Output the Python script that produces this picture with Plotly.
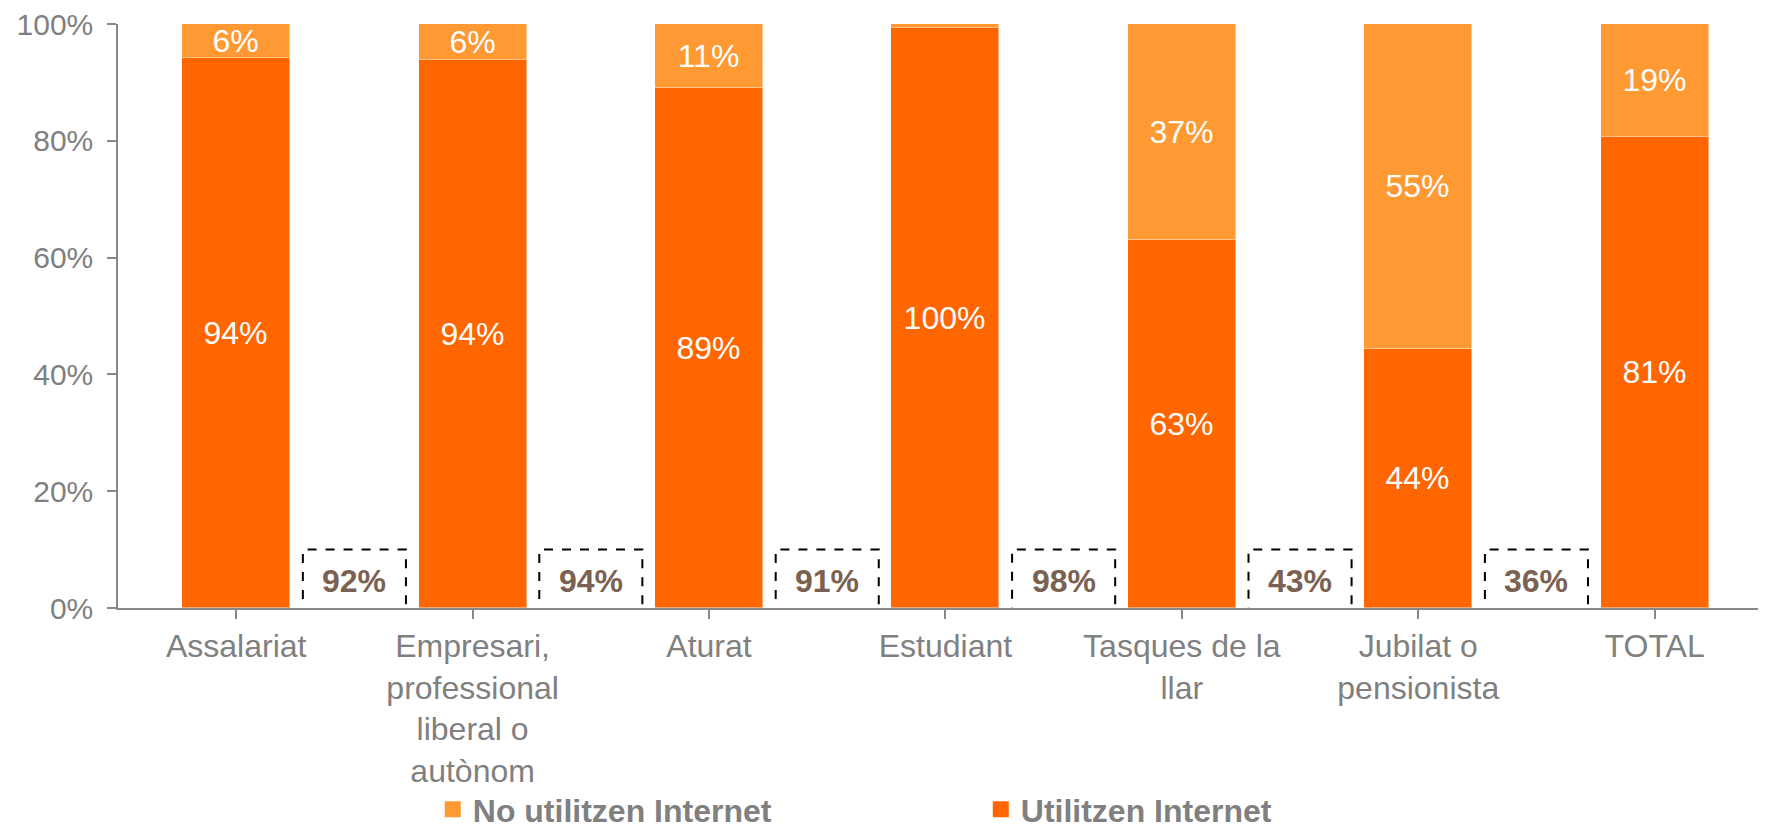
import plotly.graph_objects as go

categories = ["Assalariat", "Empresari,<br>professional<br>liberal o<br>autònom", "Aturat",
              "Estudiant", "Tasques de la<br>llar", "Jubilat o<br>pensionista", "TOTAL"]
use_vals = [94.1, 93.8, 89.1, 99.4, 63.0, 44.3, 80.7]
no_use_vals = [5.9, 6.2, 10.9, 0.6, 37.0, 55.7, 19.3]
use_labels = ["94%", "94%", "89%", "100%", "63%", "44%", "81%"]
no_use_labels = ["6%", "6%", "11%", "", "37%", "55%", "19%"]
box_vals = [92, 94, 91, 98, 43, 36]
y_ticks = [0, 20, 40, 60, 80, 100]
y_tick_text = ["0%", "20%", "40%", "60%", "80%", "100%"]

FONT = "Liberation Sans, Arial, sans-serif"
GRAY = "#808080"
DARK = "#FF6600"
LIGHT = "#FF9933"
BOX_TEXT = "#7A6152"

fig = go.Figure()
fig.add_trace(go.Bar(
    x=list(range(len(categories))), y=use_vals, name="Utilitzen Internet",
    marker=dict(color=DARK, line=dict(color="rgba(255,255,255,0.45)", width=1)),
    text=use_labels, textposition="inside", insidetextanchor="middle",
    textfont=dict(color="white", size=32, family=FONT), width=0.457,
    constraintext="none", hoverinfo="skip", showlegend=False))
fig.add_trace(go.Bar(
    x=list(range(len(categories))), y=no_use_vals, name="No utilitzen Internet",
    marker=dict(color=LIGHT, line=dict(color="rgba(255,255,255,0.45)", width=1)),
    text=no_use_labels, textposition="inside", insidetextanchor="middle",
    textfont=dict(color="white", size=32, family=FONT), width=0.457,
    constraintext="none", hoverinfo="skip", showlegend=False))

# legend entries with larger square swatches
fig.add_trace(go.Scatter(x=[None], y=[None], mode="markers", name="Utilitzen Internet",
                         marker=dict(symbol="square", size=16, color=DARK)))
fig.add_trace(go.Scatter(x=[None], y=[None], mode="markers", name="No utilitzen Internet",
                         marker=dict(symbol="square", size=16, color=LIGHT)))

box_half = 0.218
for i, v in enumerate(box_vals):
    xc = i + 0.5
    fig.add_shape(type="rect", xref="x", yref="y", x0=xc - box_half, x1=xc + box_half,
                  y0=-0.2, y1=10, line=dict(color="black", width=2, dash="dash"),
                  fillcolor="rgba(0,0,0,0)", layer="above")
    fig.add_annotation(x=xc, y=4.6, xref="x", yref="y", text=f"<b>{v}%</b>",
                       showarrow=False, font=dict(size=32, color=BOX_TEXT, family=FONT))

fig.update_layout(
    barmode="stack", bargap=0,
    width=1758, height=820,
    margin=dict(l=110, r=0, t=16, b=220, autoexpand=False),
    plot_bgcolor="white", paper_bgcolor="white",
    font=dict(family=FONT, color=GRAY, size=31),
    showlegend=True,
    legend=dict(orientation="h", traceorder="reversed", x=0.191, xanchor="left",
                y=-0.345, yanchor="middle", entrywidth=503, entrywidthmode="pixels",
                font=dict(size=32, color=GRAY, family=FONT, weight="bold"),
                bgcolor="rgba(0,0,0,0)"),
    xaxis=dict(tickmode="array", tickvals=list(range(len(categories))), ticktext=categories,
               range=[-0.5, 6.471], showline=True, linecolor="#898989", linewidth=1.5,
               ticks="outside", tickson="boundaries", ticklen=9, tickcolor="#898989",
               tickwidth=1.5, showgrid=False, zeroline=False, automargin=False,
               ticklabeloverflow="allow",
               tickfont=dict(size=32, color=GRAY, family=FONT)),
    yaxis=dict(range=[0, 100], tickmode="array", tickvals=y_ticks, ticktext=y_tick_text,
               showline=True, linecolor="#898989", linewidth=1.5, ticks="outside",
               ticklen=9, tickcolor="#898989", tickwidth=1.5, showgrid=False,
               zeroline=False, ticklabelstandoff=8, automargin=False,
               ticklabeloverflow="allow",
               tickfont=dict(size=30, color=GRAY, family=FONT)),
)

fig.write_html("out.html")
